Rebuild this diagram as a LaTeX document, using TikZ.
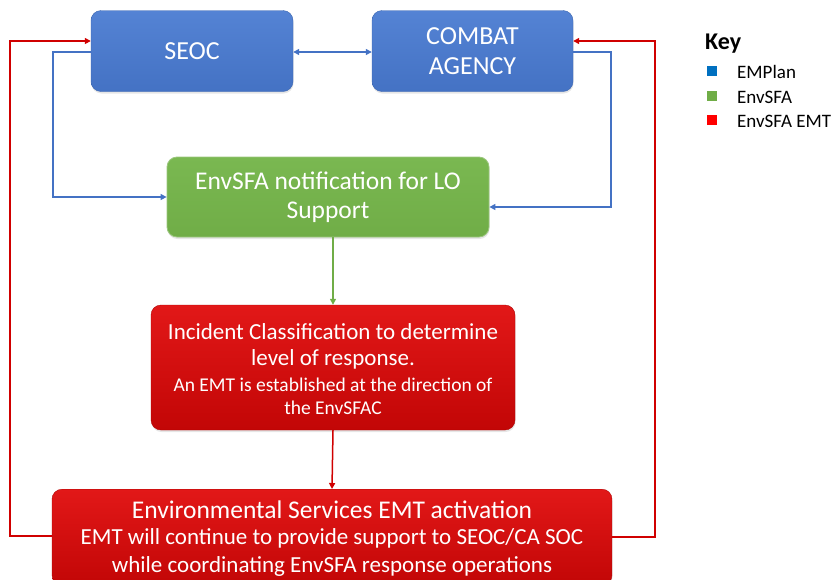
\documentclass[tikz,border=0pt]{standalone}
\usepackage{fontspec}
\setmainfont{Carlito}
\usetikzlibrary{arrows.meta,calc,shadows}
\definecolor{bluebox}{HTML}{4472C4}
\definecolor{bluetop}{HTML}{5483D4}
\definecolor{greenbox}{HTML}{70AD47}
\definecolor{greentop}{HTML}{7AB851}
\definecolor{redbox}{HTML}{C20606}
\definecolor{redtop}{HTML}{E21818}
\definecolor{blueline}{HTML}{4472C4}
\definecolor{redline}{HTML}{D00000}
\definecolor{keyblue}{HTML}{0070C0}
\definecolor{keygreen}{HTML}{70AD47}
\definecolor{keyred}{HTML}{FF0000}
\tikzset{
  boxbase/.style={rounded corners=10pt, text=white, align=center, inner sep=0pt,
    drop shadow={opacity=0.2, shadow xshift=0.5pt, shadow yshift=-2pt}},
  bluebx/.style={boxbase, top color=bluetop, bottom color=bluebox, draw=bluebox!90!black, line width=0.4pt},
  greenbx/.style={boxbase, top color=greentop, bottom color=greenbox, draw=greenbox!70!white, line width=0.8pt},
  redbx/.style={boxbase, top color=redtop, bottom color=redbox, draw=redbox!90!black, line width=0.4pt},
  wtxt/.style={text=white, align=center, inner sep=0pt},
  arr/.style={-{Triangle[length=6pt,width=6pt]}},
  bline/.style={draw=blueline, line width=1.3pt},
  rline/.style={draw=redline, line width=1.5pt},
  gline/.style={draw=greenbox, line width=1.3pt},
  keysq/.style={fill=#1, minimum size=10pt, inner sep=0pt},
  keytxt/.style={anchor=west, font=\fontsize{19}{22}\selectfont, inner sep=0pt}
}
\begin{document}
\begin{tikzpicture}[x=1pt,y=-1pt]
\useasboundingbox (0,0) rectangle (835,579);
\node[bluebx, minimum width=202pt, minimum height=81pt, font=\fontsize{26}{30}\selectfont] (seoc) at (192,51) {SEOC};
\node[bluebx, minimum width=201pt, minimum height=81pt, font=\fontsize{26}{30}\selectfont] (combat) at (472.5,51) {COMBAT\\AGENCY};
\node[greenbx, minimum width=322pt, minimum height=80pt, font=\fontsize{25.5}{29}\selectfont] (green) at (328,197) {EnvSFA notification for LO\\Support};
\node[redbx, minimum width=364pt, minimum height=125pt] (red1) at (333,367.5) {};
\node[wtxt, font=\fontsize{23}{26}\selectfont] (red1a) at (333,346) {Incident Classification to determine\\level of response.};
\node[wtxt, font=\fontsize{19.5}{23}\selectfont] (red1b) at (333,396.5) {An EMT is established at the direction of\\the EnvSFAC};
\node[redbx, minimum width=560pt, minimum height=96pt, anchor=north] (red2) at (332,489) {};
\node[wtxt, font=\fontsize{25.5}{28}\selectfont] (red2a) at (332,510) {Environmental Services EMT activation};
\node[wtxt, font=\fontsize{23}{28}\selectfont] (red2b) at (332,552) {EMT will continue to provide support to SEOC/CA SOC\\while coordinating EnvSFA response operations};
% blue connectors
\draw[bline, {Triangle[length=6pt,width=6pt]}-{Triangle[length=6pt,width=6pt]}] ($(seoc.east)+(0,1)$) -- ($(combat.west)+(0,1)$);
\draw[bline, arr] ($(seoc.west)+(0,1)$) -- (53,52) |- (green.west);
\draw[bline, arr] ($(combat.east)+(0,1)$) -- (611,52) |- ($(green.east)+(0,10)$);
% green connector
\draw[gline, arr] (red1.north |- green.south) -- (red1.north);
% red connectors
\draw[rline, arr] (red1.south) -- (red2.north);
\draw[rline, arr] (red2.west |- 0,536) -- (10,536) |- ($(seoc.west)+(0,-10)$);
\draw[rline, arr] (red2.east |- 0,537) -- (655,537) |- ($(combat.east)+(0,-10)$);
% key
\node[anchor=west, font=\bfseries\fontsize{24}{26}\selectfont, inner sep=0pt] (keytitle) at (705,44) {Key};
\node[keysq=keyblue] (k1) at (712,71) {};
\node[keysq=keygreen] (k2) at (712,96) {};
\node[keysq=keyred] (k3) at (712,120) {};
\node[keytxt] (t1) at (737,72) {EMPlan};
\node[keytxt] (t2) at (737,97) {EnvSFA};
\node[keytxt] (t3) at (737,121) {EnvSFA EMT};
\end{tikzpicture}
\end{document}
